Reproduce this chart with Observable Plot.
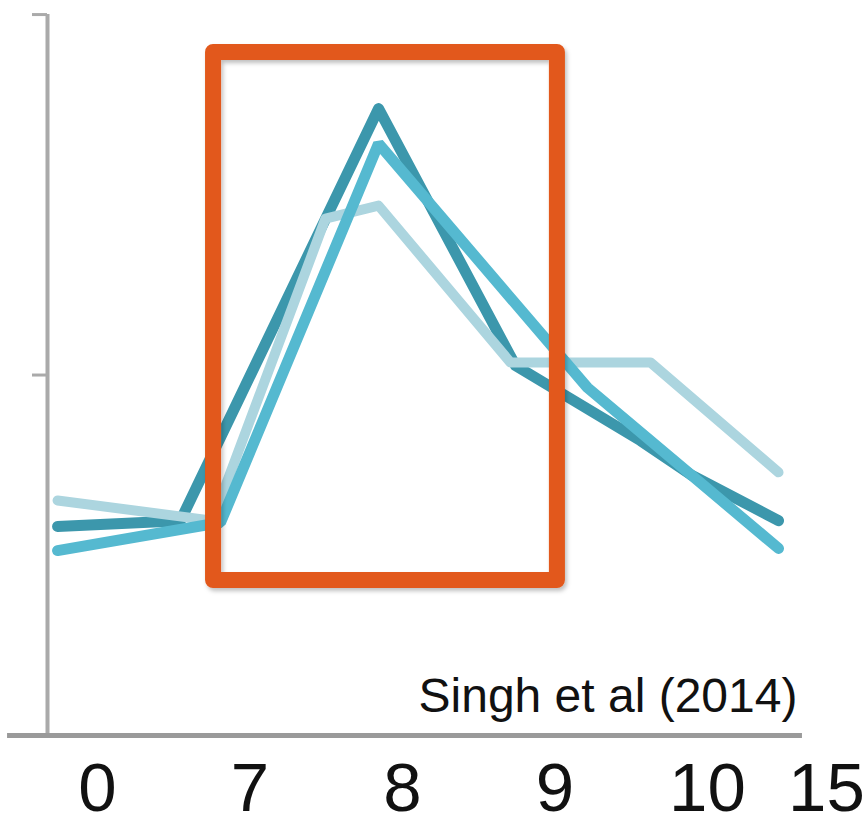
<!DOCTYPE html>
<html>
<head>
<meta charset="utf-8">
<script src="https://cdn.jsdelivr.net/npm/d3@7"></script>
<script src="https://cdn.jsdelivr.net/npm/@observablehq/plot@0.6"></script>
<style>
  html, body { margin: 0; padding: 0; background: #fff; }
  #chart { width: 866px; height: 828px; overflow: hidden; }
  svg { font-family: "Liberation Sans", Arial, Helvetica, sans-serif; }
</style>
</head>
<body>
<div id="chart"></div>
<script>
// Tick labels and their positions along the x axis
const tickPos = [0, 1, 2, 3, 4, 4.78];
const tickLabels = ["0", "7", "8", "9", "10", "15"];

// Series 1 (dark teal)
const darkX = [-0.262, 0.544, 1.843, 2.741, 3.561, 3.889, 4.466];
const darkY = [0.580, 0.596, 1.739, 1.026, 0.818, 0.724, 0.596];

// Series 2 (pale blue)
const lightX = [-0.262, 0.754, 1.495, 1.843, 2.708, 3.626, 4.466];
const lightY = [0.652, 0.596, 1.434, 1.470, 1.035, 1.035, 0.730];

// Series 3 (cyan)
const cyanX = [-0.262, 0.807, 1.843, 3.213, 4.466];
const cyanY = [0.513, 0.591, 1.642, 0.965, 0.519];

// Highlight box around 7–9
const highlight = [{x1: 0.761, x2: 3.016, y1: 0.430, y2: 1.895}];

const caption = "Singh et al (2014)";

const toPts = (xs, ys) => xs.map((x, i) => ({x, y: ys[i]}));

const plot = Plot.plot({
  width: 866,
  height: 828,
  marginLeft: 47,
  marginRight: 0,
  marginTop: 0,
  marginBottom: 93,
  x: {domain: [-0.328, 5.043]},
  y: {domain: [0, 2.039]},
  marks: [
    Plot.axisY({ticks: [1, 2], tickSize: 15, tickFormat: () => "", stroke: "#aaaaaa", strokeWidth: 3}),
    Plot.ruleX([-0.328], {y1: 0, y2: 2, stroke: "#aaaaaa", strokeWidth: 4}),
    Plot.ruleY([0], {x1: -0.59, x2: 4.623, stroke: "#9a9a9a", strokeWidth: 5}),
    Plot.axisX({
      ticks: tickPos,
      tickFormat: d => tickLabels[tickPos.indexOf(d)],
      tickSize: 0,
      tickPadding: 26,
      fontSize: 69,
      fill: "#111"
    }),
    Plot.line(toPts(darkX, darkY), {x: "x", y: "y", stroke: "#3c97ac", strokeWidth: 11, strokeLinejoin: "round", strokeLinecap: "round"}),
    Plot.line(toPts(lightX, lightY), {x: "x", y: "y", stroke: "#acd5df", strokeWidth: 10, strokeLinejoin: "round", strokeLinecap: "round"}),
    Plot.line(toPts(cyanX, cyanY), {x: "x", y: "y", stroke: "#55b9d0", strokeWidth: 11, strokeLinejoin: "miter"}),
    Plot.rect(highlight, {x1: "x1", x2: "x2", y1: "y1", y2: "y2", fill: "none", stroke: "#e2581a", strokeWidth: 16, strokeLinejoin: "round", className: "hl"}),
    Plot.text([{x: 4.59, y: 0.064, t: caption}], {x: "x", y: "y", text: "t", textAnchor: "end", lineAnchor: "bottom", fontSize: 48, fill: "#111"})
  ]
});

// subtle drop shadow on the highlight box
const defs = document.createElementNS("http://www.w3.org/2000/svg", "defs");
defs.innerHTML = '<filter id="sh" x="-10%" y="-10%" width="120%" height="120%"><feDropShadow dx="2" dy="3" stdDeviation="2" flood-color="#000" flood-opacity="0.25"/></filter>';
plot.insertBefore(defs, plot.firstChild);
const hl = plot.querySelector(".hl");
if (hl) hl.setAttribute("filter", "url(#sh)");

document.getElementById("chart").appendChild(plot);
</script>
</body>
</html>
